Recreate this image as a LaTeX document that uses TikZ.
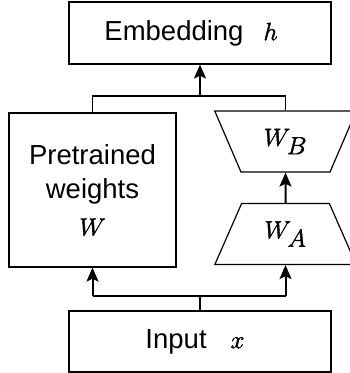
\documentclass[tikz,border=0pt]{standalone}
\usepackage{fontspec}
\setmainfont{Liberation Sans}
\usetikzlibrary{arrows.meta,shapes.geometric}
\newcommand{\mvar}[1]{{\fontsize{33}{36}\selectfont
  \special{pdf:literal direct 2 Tr 0.4 w}$#1$\special{pdf:literal direct 0 Tr}}}
\tikzset{
  block/.style={draw,line width=1.2pt,inner sep=0pt,align=center},
  lora/.style={block,trapezium,trapezium stretches=true,
    minimum width=142pt,minimum height=61pt,
    trapezium left angle=63.4,trapezium right angle=63.4},
  flow/.style={line width=2pt,-{Stealth[length=14pt,width=12pt,inset=3pt]}},
  wire/.style={line width=1.2pt}
}
\begin{document}
\begin{tikzpicture}[x=1pt,y=-1pt,font=\fontsize{27.5}{34}\selectfont]
  \useasboundingbox (0,0) rectangle (349,373);
  % boxes
  \node[block,minimum width=262pt,minimum height=62pt] (emb) at (200,33)
    {Embedding\hspace{20pt}\mvar{h}\hspace{18pt}};
  \node[block,minimum width=262pt,minimum height=61pt] (inp) at (200,341.5)
    {Input\hspace{24pt}\mvar{x}\hspace{10pt}};
  \node[block,minimum width=167pt,minimum height=154pt] (pre) at (92.5,190)
    {Pretrained\\weights\\[3pt]\mvar{W}};
  \node[lora,shape border rotate=180] (wb) at (285.5,141.5) {\mvar{W_B}};
  \node[lora] (wa) at (285.5,234) {\mvar{W_A}};
  % merge on top
  \coordinate (join) at (200,96);
  \draw[wire] (pre.north) |- (join) -| (wb.north);
  \draw[flow] (join) -- (emb.south);
  \draw[flow] (wa.north) -- (wb.south);
  % split below
  \coordinate (split) at (200,296);
  \draw[wire] (inp.north) -- (split);
  \draw[wire] (pre.south |- split) -- (wa.south |- split);
  \draw[flow] (pre.south |- split) -- (pre.south);
  \draw[flow] (wa.south |- split) -- (wa.south);
\end{tikzpicture}
\end{document}
